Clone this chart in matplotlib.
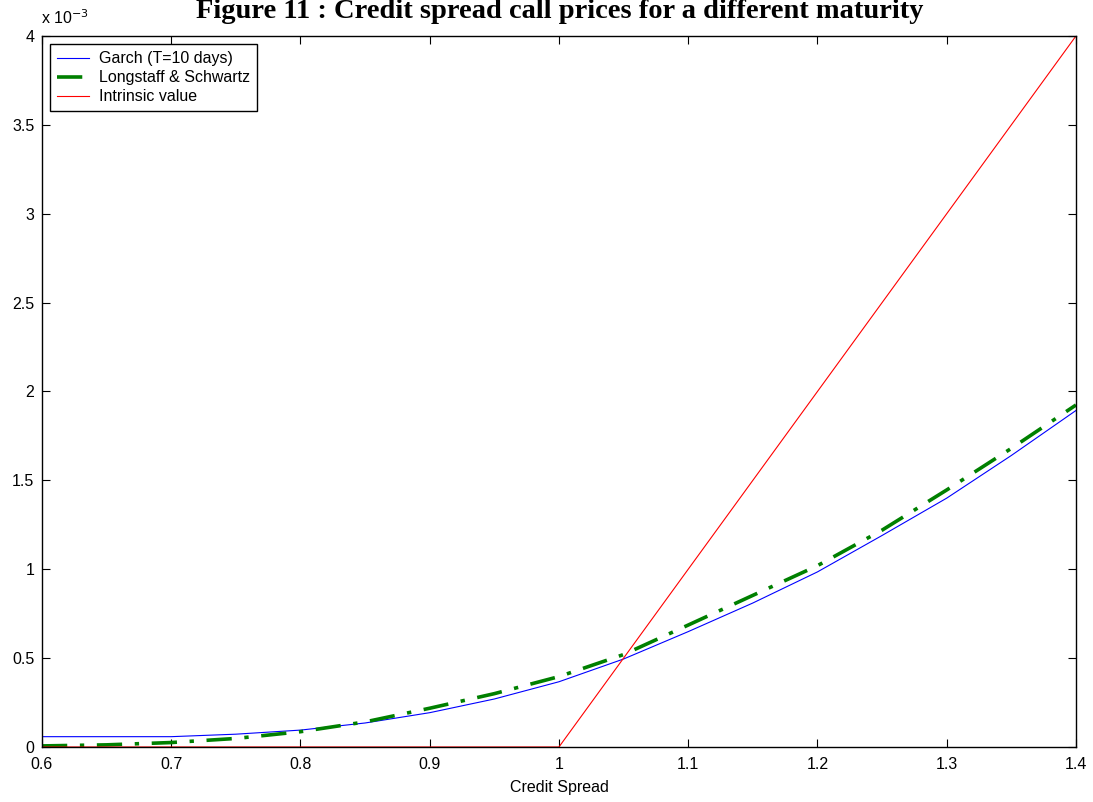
import numpy as np
import matplotlib
matplotlib.use("Agg")
import matplotlib.pyplot as plt

# credit spread grid and call prices (in units of 1e-3)
spread = [0.60, 0.65, 0.70, 0.75, 0.80, 0.85, 0.90, 0.95, 1.00,
          1.05, 1.10, 1.15, 1.20, 1.25, 1.30, 1.35, 1.40]
garch = [0.058, 0.058, 0.058, 0.072, 0.095, 0.135, 0.193, 0.270, 0.367,
         0.495, 0.649, 0.810, 0.985, 1.190, 1.400, 1.640, 1.893]
longstaff = [0.006, 0.012, 0.025, 0.048, 0.086, 0.141, 0.218, 0.300, 0.396,
             0.520, 0.686, 0.853, 1.020, 1.220, 1.446, 1.680, 1.924]
intrinsic = [0.0, 0.0, 0.0, 0.0, 0.0, 0.0, 0.0, 0.0, 0.0,
             0.5, 1.0, 1.5, 2.0, 2.5, 3.0, 3.5, 4.0]

xticks = [0.6, 0.7, 0.8, 0.9, 1, 1.1, 1.2, 1.3, 1.4]
xticklabels = ["0.6", "0.7", "0.8", "0.9", "1", "1.1", "1.2", "1.3", "1.4"]
yticks = [0, 0.5, 1, 1.5, 2, 2.5, 3, 3.5, 4]
yticklabels = ["0", "0.5", "1", "1.5", "2", "2.5", "3", "3.5", "4"]

plt.rcParams['font.family'] = ['Liberation Sans', 'DejaVu Sans']

fig = plt.figure(figsize=(10.93, 8.02), dpi=100)
ax = fig.add_axes([0.0384, 0.0686, 0.946, 0.8865])

ax.plot(spread, garch, color='blue', lw=0.8, label='Garch (T=10 days)')
ax.plot(spread, longstaff, color='green', lw=2.6, ls=(0, (7, 3.5, 1.2, 3.5)),
        label='Longstaff & Schwartz')
ax.plot(spread, intrinsic, color='red', lw=0.8, label='Intrinsic value')

ax.set_xlim(0.6, 1.4)
ax.set_ylim(0, 4)
ax.set_xticks(xticks)
ax.set_xticklabels(xticklabels)
ax.set_yticks(yticks)
ax.set_yticklabels(yticklabels)
ax.tick_params(direction='in', length=6, width=0.8, top=True, right=True,
               labelsize=11.5)
ax.tick_params(axis='x', pad=7)
ax.tick_params(axis='y', pad=5.5)
for s in ax.spines.values():
    s.set_linewidth(1.0)

ax.set_xlabel('Credit Spread', fontsize=11.5, labelpad=6)
ax.text(-0.001, 1.012, r'x 10$^{-3}$', transform=ax.transAxes, fontsize=11.5,
        ha='left', va='bottom')

fig.text(0.512, 0.977, 'Figure 11 : Credit spread call prices for a different maturity',
         family='Liberation Serif', fontweight='bold', fontsize=20.5,
         ha='center', va='baseline')

leg = ax.legend(loc='upper left', fontsize=11.5, fancybox=False, shadow=False,
                edgecolor='black', framealpha=1, borderaxespad=0.5,
                handlelength=2.0, handletextpad=0.6, labelspacing=0.25,
                borderpad=0.45)
leg.get_frame().set_linewidth(1.0)

fig.savefig('out.png', dpi=100)
